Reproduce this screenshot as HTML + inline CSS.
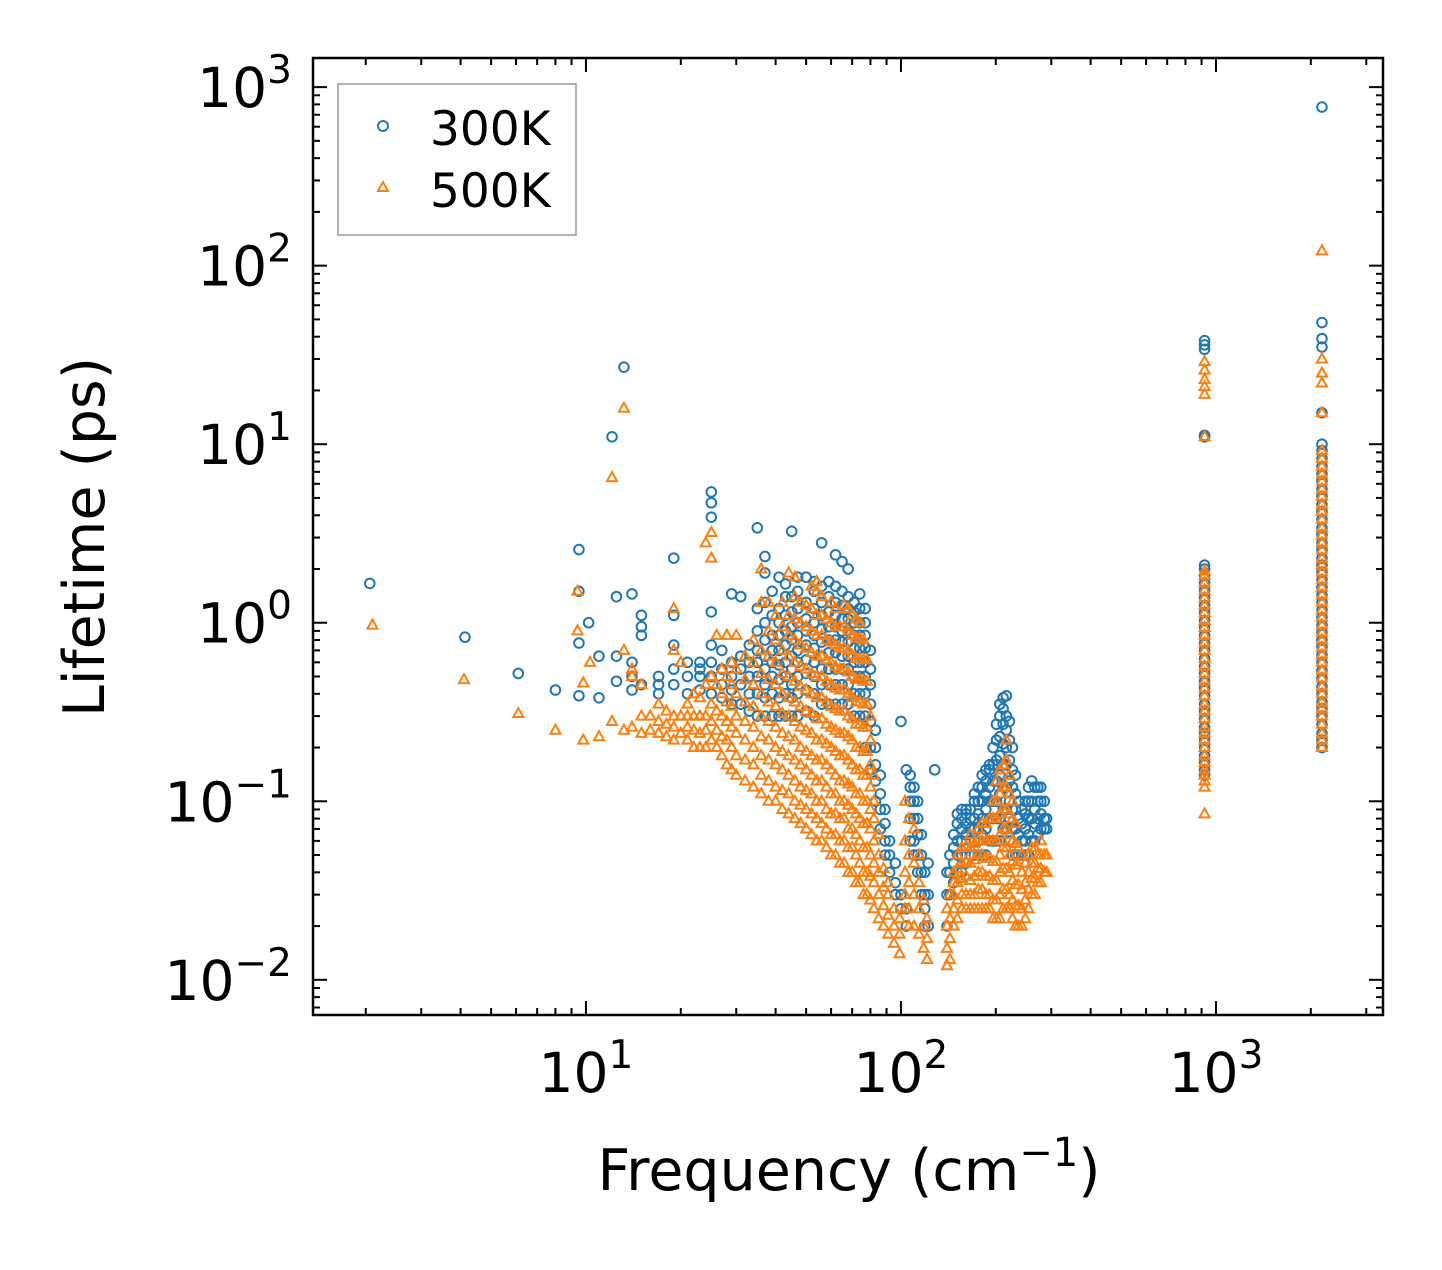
<!DOCTYPE html>
<html><head><meta charset="utf-8"><style>
body{margin:0;background:#fff}
svg text{font-family:"DejaVu Sans","Liberation Sans",sans-serif;fill:#000}
</style></head><body>
<svg id="chart" width="1442" height="1265" viewBox="0 0 1442 1265" xmlns="http://www.w3.org/2000/svg">
<rect width="1442" height="1265" fill="#fff"/>
<g id="marks"></g>
<g id="axes"></g>
<rect x="313" y="58" width="1070" height="957" fill="none" stroke="#000" stroke-width="2.5"/>
<text x="849" y="1190" font-size="57" text-anchor="middle">Frequency (cm<tspan dy="-24" font-size="40">−1</tspan><tspan dy="24">)</tspan></text>
<text transform="translate(104,537) rotate(-90)" font-size="57" text-anchor="middle">Lifetime (ps)</text>
<g>
<rect x="338" y="84" width="238" height="151" fill="#fff" stroke="#999" stroke-width="1.5"/>
<circle cx="383" cy="126" r="5" fill="none" stroke="#1f77b4" stroke-width="2"/>
<text x="430" y="145" font-size="47">300K</text>
<polygon points="383,182 388,191 378,191" fill="none" stroke="#ff7f0e" stroke-width="2"/>
<text x="430" y="207" font-size="47">500K</text>
</g>
</svg>
<script>
// frequency columns and the lifetimes read at each column
const blueCols=[[2.06,[1.66]],[4.13,[0.83]],[6.1,[0.52]],[8,[0.42]],[9.5,[2.57,1.5,0.77,0.39]],[10.2,[1.0]],[11,[0.65,0.38]],[12.1,[11]],[13.2,[27]],
[12.5,[0.47,0.65,1.4]],[14,[0.42,0.5,0.6,1.45]],[15,[0.45,0.85,0.95,1.1]],[17,[0.4,0.5,0.45]],[19,[0.45,0.55,0.75,1.1,2.3]],[21,[0.4,0.5,0.6]],[23,[0.42,0.5,0.6,0.55]],
[25,[0.4,0.5,0.6,0.75,1.15,3.9,4.7,5.4]],[27,[0.38,0.45,0.55,0.7]],[29,[0.35,0.42,0.5,0.6,1.45]],[31,[0.35,0.45,0.55,0.65,1.4]],[33,[0.32,0.4,0.5,0.6,0.75]],
[35,[0.3,0.4,0.5,0.6,0.7,0.9,1.2,3.4]],[37,[0.3,0.38,0.45,0.55,0.65,0.8,1,1.3,1.9,2.35]],[39,[0.3,0.4,0.5,0.6,0.7,0.85,1.1,1.5]],[41,[0.3,0.38,0.48,0.58,0.7,0.85,1.0,1.2,1.8]],
[43,[0.3,0.4,0.5,0.6,0.75,0.9,1.1,1.4,1.65]],[45,[0.3,0.38,0.45,0.55,0.65,0.8,0.95,1.15,1.4,3.25]],[47,[0.3,0.4,0.5,0.6,0.7,0.85,1.0,1.2,1.5,1.8]],
[50,[0.32,0.42,0.52,0.62,0.75,0.9,1.05,1.3,1.8]],[53,[0.3,0.4,0.5,0.6,0.72,0.85,1.0,1.2,1.5,1.7]],[56,[0.35,0.45,0.55,0.65,0.78,0.92,1.1,1.3,1.6,2.8]],
[59,[0.35,0.45,0.55,0.68,0.8,0.95,1.15,1.4,1.7]],[62,[0.35,0.45,0.55,0.68,0.8,0.95,1.1,1.3,1.6,2.4]],[65,[0.35,0.45,0.55,0.65,0.78,0.9,1.05,1.25,1.5,2.2]],
[68,[0.35,0.45,0.55,0.65,0.78,0.9,1.05,1.2,1.4,2.0]],[71,[0.3,0.4,0.5,0.6,0.72,0.85,1.0,1.15,1.3]],[74,[0.3,0.4,0.5,0.6,0.72,0.85,1.0,1.2,1.45]],
[77,[0.2,0.3,0.4,0.5,0.6,0.72,0.85,1.0,1.2]],[80,[0.15,0.2,0.28,0.35,0.45,0.55,0.7]],[83,[0.1,0.13,0.16,0.2,0.25]],[86,[0.07,0.09,0.11,0.14]],
[89,[0.05,0.06,0.075,0.09]],[92,[0.04,0.05,0.06]],[96,[0.03,0.035,0.045]],[100,[0.025,0.03,0.28]],[104,[0.02,0.025,0.15]],[107,[0.06,0.08,0.1,0.12,0.14]],
[110,[0.05,0.06,0.08,0.1,0.12]],[113,[0.04,0.05,0.065,0.08,0.1]],[116,[0.03,0.04,0.05,0.065]],[119,[0.02,0.025,0.03,0.04]],[122,[0.02,0.03,0.045]],[128,[0.15]],
[140,[0.02,0.03,0.04]],[143,[0.03,0.04,0.05]],[147,[0.035,0.045,0.055,0.065]],[151,[0.04,0.05,0.06,0.075,0.085]],[156,[0.04,0.05,0.06,0.07,0.08,0.09]],
[161,[0.045,0.055,0.065,0.075,0.085,0.09]],[166,[0.05,0.06,0.07,0.08,0.09]],[171,[0.05,0.06,0.07,0.08,0.1,0.11]],[176,[0.05,0.06,0.07,0.085,0.1,0.12]],
[181,[0.05,0.065,0.08,0.1,0.12,0.14]],[186,[0.05,0.07,0.09,0.11,0.13,0.15]],[191,[0.06,0.08,0.1,0.12,0.15,0.16]],[196,[0.06,0.08,0.1,0.13,0.16,0.2]],
[201,[0.06,0.08,0.1,0.13,0.17,0.22,0.27]],[206,[0.06,0.08,0.11,0.14,0.18,0.23,0.3,0.35]],[211,[0.07,0.09,0.12,0.16,0.21,0.27,0.33,0.38]],
[216,[0.07,0.09,0.12,0.16,0.2,0.25,0.3,0.39]],[221,[0.06,0.08,0.1,0.13,0.17,0.22,0.28]],[226,[0.05,0.07,0.09,0.12,0.15,0.2]],[231,[0.05,0.07,0.09,0.11,0.14]],
[236,[0.05,0.065,0.08,0.1]],[242,[0.05,0.06,0.075,0.09]],[248,[0.05,0.06,0.07,0.085,0.1]],[254,[0.05,0.065,0.08,0.1,0.12]],[260,[0.06,0.08,0.1,0.13]],
[266,[0.06,0.075,0.09,0.12]],[272,[0.065,0.08,0.1,0.12]],[278,[0.07,0.085,0.1,0.12]],[285,[0.07,0.08,0.1]],[290,[0.07,0.08]],
[920,[0.14,0.15,0.165,0.18,0.2,0.22,0.24,0.26,0.29,0.32,0.35,0.39,0.43,0.47,0.52,0.57,0.63,0.7,0.77,0.85,0.94,1.03,1.14,1.25,1.38,1.52,1.67,1.84,2.0,2.1,11,11.2,34,36,38]],
[2170,[0.2,0.22,0.24,0.27,0.3,0.33,0.36,0.4,0.44,0.49,0.54,0.6,0.66,0.73,0.8,0.88,0.97,1.07,1.18,1.3,1.43,1.58,1.74,1.92,2.1,2.3,2.55,2.8,3.1,3.4,3.8,4.2,4.6,5.1,5.6,6.2,6.8,7.5,8.3,9.2,10,15,35,39,48,773]]];
const orangeCols=[[2.1,[0.97]],[4.1,[0.48]],[6.1,[0.31]],[8,[0.25]],[9.4,[0.9,1.5]],[9.8,[0.22,0.46]],[10.3,[0.6]],[11,[0.23]],[12.1,[6.5,0.28]],[13.2,[15.9,0.25,0.7]],
[14,[0.26,0.5,0.55]],[15,[0.24,0.3,0.45]],[16,[0.25,0.3]],[17,[0.24,0.28,0.35]],[18,[0.23,0.27,0.32]],[19,[0.22,0.26,0.3,0.7,1.2]],[20,[0.24,0.3,0.6]],
[21,[0.22,0.26,0.3,0.35]],[22,[0.2,0.25,0.3,0.4]],[23,[0.2,0.24,0.3,0.38]],[24,[0.2,0.25,0.3,0.45,2.8]],[25,[0.22,0.28,0.35,0.5,2.3,3.2]],[26,[0.2,0.25,0.32,0.45,0.85]],
[27,[0.18,0.23,0.3,0.4,0.55]],[28,[0.16,0.22,0.28,0.36,0.5,0.85]],[29,[0.15,0.2,0.26,0.34,0.45,0.6]],[30,[0.14,0.18,0.24,0.3,0.4,0.55,0.85]],
[32,[0.13,0.17,0.22,0.28,0.36,0.48,0.65]],[34,[0.12,0.16,0.2,0.26,0.34,0.45,0.6,0.8]],[36,[0.11,0.14,0.18,0.23,0.3,0.4,0.52,0.7,1.3,2.0]],
[38,[0.1,0.13,0.17,0.22,0.28,0.36,0.48,0.65,0.9,1.3]],[40,[0.1,0.12,0.16,0.2,0.26,0.34,0.45,0.6,0.8,1.1]],[42,[0.09,0.115,0.15,0.19,0.24,0.31,0.4,0.52,0.7,0.95,1.3]],
[44,[0.085,0.11,0.14,0.18,0.23,0.3,0.38,0.5,0.65,0.85,1.1,1.9]],[46,[0.08,0.1,0.13,0.17,0.22,0.28,0.36,0.47,0.6,0.8,1.05,1.4,1.8]],
[48,[0.075,0.095,0.12,0.16,0.2,0.26,0.34,0.44,0.57,0.75,1.0,1.3]],[50,[0.07,0.09,0.115,0.15,0.19,0.25,0.32,0.42,0.55,0.72,0.95,1.25]],
[52,[0.065,0.085,0.11,0.14,0.18,0.24,0.31,0.4,0.52,0.68,0.9,1.2,1.6]],[54,[0.06,0.08,0.1,0.13,0.17,0.22,0.29,0.38,0.5,0.65,0.85,1.1,1.5,1.7]],
[56,[0.06,0.075,0.1,0.13,0.17,0.22,0.29,0.38,0.5,0.65,0.85,1.1,1.4]],[58,[0.055,0.07,0.09,0.12,0.16,0.21,0.27,0.36,0.47,0.62,0.8,1.05]],
[60,[0.05,0.065,0.085,0.11,0.15,0.2,0.26,0.34,0.45,0.6,0.78,1.0,1.3]],[62,[0.05,0.065,0.085,0.11,0.14,0.19,0.25,0.33,0.43,0.57,0.75,0.95,1.2]],
[64,[0.045,0.06,0.08,0.1,0.13,0.18,0.24,0.32,0.42,0.55,0.72,0.95]],[66,[0.045,0.06,0.08,0.1,0.13,0.18,0.24,0.32,0.42,0.55,0.72,0.95,1.25]],
[68,[0.04,0.055,0.07,0.095,0.125,0.17,0.23,0.3,0.4,0.53,0.7,0.9,1.2]],[70,[0.04,0.055,0.07,0.09,0.12,0.16,0.22,0.29,0.38,0.5,0.66,0.85,1.1]],
[72,[0.035,0.05,0.065,0.085,0.11,0.15,0.2,0.27,0.36,0.48,0.63,0.82,1.05]],[74,[0.035,0.045,0.06,0.08,0.11,0.15,0.2,0.27,0.36,0.48,0.63,0.82,1.0]],
[76,[0.03,0.04,0.055,0.075,0.1,0.14,0.19,0.26,0.35,0.47,0.62,0.8]],[78,[0.03,0.04,0.055,0.075,0.1,0.14,0.19,0.26,0.35,0.47,0.62]],
[80,[0.028,0.038,0.05,0.07,0.09,0.12,0.16,0.22,0.3]],[82,[0.025,0.035,0.045,0.06,0.08,0.1,0.14]],[85,[0.022,0.03,0.04,0.05,0.065]],
[88,[0.02,0.026,0.033,0.042]],[91,[0.018,0.023,0.03,0.035]],[95,[0.016,0.02,0.025]],[99,[0.014,0.018,0.022]],[103,[0.025,0.03,0.04,0.06,0.1]],
[106,[0.02,0.025,0.035,0.05,0.08]],[110,[0.02,0.03,0.045,0.07]],[114,[0.018,0.025,0.035,0.05]],[118,[0.015,0.02,0.028]],[121,[0.013,0.017,0.022]],
[140,[0.012,0.015,0.02,0.025]],[143,[0.013,0.017,0.022,0.03]],[147,[0.02,0.025,0.03,0.035,0.04]],[151,[0.022,0.028,0.035,0.042,0.05]],
[156,[0.025,0.03,0.037,0.045,0.055]],[161,[0.025,0.03,0.038,0.046,0.056]],[166,[0.025,0.03,0.036,0.045,0.055,0.065]],[171,[0.025,0.03,0.038,0.047,0.058]],
[176,[0.025,0.032,0.04,0.05,0.06,0.07]],[181,[0.025,0.032,0.04,0.05,0.06,0.075]],[186,[0.025,0.03,0.038,0.048,0.06,0.075]],[191,[0.025,0.03,0.038,0.048,0.06,0.08]],
[196,[0.022,0.028,0.036,0.046,0.06,0.08,0.1]],[201,[0.022,0.028,0.036,0.046,0.06,0.08,0.1,0.13]],[206,[0.022,0.03,0.04,0.05,0.065,0.085,0.11,0.15]],
[211,[0.025,0.032,0.042,0.055,0.07,0.09,0.12,0.16]],[216,[0.025,0.032,0.042,0.055,0.07,0.09,0.12,0.17,0.22]],[221,[0.025,0.03,0.04,0.05,0.065,0.085,0.11,0.14]],
[226,[0.022,0.028,0.036,0.046,0.06,0.08,0.1]],[231,[0.02,0.026,0.034,0.044,0.058,0.075]],[236,[0.02,0.026,0.034,0.044,0.055]],[242,[0.02,0.025,0.032,0.04,0.05]],
[248,[0.022,0.028,0.035,0.045]],[254,[0.025,0.032,0.04,0.05]],[260,[0.03,0.037,0.045,0.055]],[266,[0.03,0.037,0.045,0.055]],[272,[0.035,0.042,0.05]],
[278,[0.035,0.042,0.05,0.06]],[285,[0.04,0.05]],[290,[0.04,0.05]],
[920,[0.085,0.12,0.13,0.14,0.15,0.165,0.18,0.2,0.22,0.24,0.26,0.29,0.32,0.35,0.39,0.43,0.47,0.52,0.57,0.63,0.7,0.77,0.85,0.94,1.03,1.14,1.25,1.38,1.52,1.67,1.84,1.95,11,19,21,23,26,29]],
[2170,[0.2,0.22,0.24,0.27,0.3,0.33,0.36,0.4,0.44,0.49,0.54,0.6,0.66,0.73,0.8,0.88,0.97,1.07,1.18,1.3,1.43,1.58,1.74,1.92,2.1,2.3,2.55,2.8,3.1,3.4,3.8,4.2,4.6,5.1,5.6,6.2,6.8,7.5,8.3,9.2,15,22,25,30,121]]];
const xTicks=[1,2,3],yTicks=[-2,-1,0,1,2,3];
const X0=313,X1=1383,Y0=58,Y1=1015;
const LX0=Math.log10(1.36),LX1=Math.log10(3390),LY0=-2.197,LY1=3.163;
const xs=v=>X0+(Math.log10(v)-LX0)/(LX1-LX0)*(X1-X0);
const ys=v=>Y1-(Math.log10(v)-LY0)/(LY1-LY0)*(Y1-Y0);
const NS='http://www.w3.org/2000/svg';
const marks=document.getElementById('marks'),axes=document.getElementById('axes');
function mk(t,a,p){const e=document.createElementNS(NS,t);for(const k in a)e.setAttribute(k,a[k]);p.appendChild(e);return e;}
blueCols.forEach(([f,ls])=>ls.forEach(l=>{const c=mk('circle',{cx:xs(f),cy:ys(l),r:4.8,fill:'none',stroke:'#1f77b4','stroke-width':2},marks);

}));
orangeCols.forEach(([f,ls])=>ls.forEach(l=>{const x=xs(f),y=ys(l);const p=mk('polygon',{points:`${x},${y-5.5} ${x+5},${y+3.5} ${x-5},${y+3.5}`,fill:'none',stroke:'#ff7f0e','stroke-width':2},marks);

}));
for(let d=0;d<=3;d++)for(let m=1;m<10;m++){const v=m*Math.pow(10,d);const x=xs(v);if(x<X0||x>X1)continue;const L=m==1?14:7;
mk('line',{x1:x,x2:x,y1:Y1,y2:Y1-L,stroke:'#000','stroke-width':2},axes);mk('line',{x1:x,x2:x,y1:Y0,y2:Y0+L,stroke:'#000','stroke-width':2},axes);}
for(let d=-3;d<=3;d++)for(let m=1;m<10;m++){const v=m*Math.pow(10,d);const y=ys(v);if(y<Y0||y>Y1)continue;const L=m==1?14:7;
mk('line',{x1:X0,x2:X0+L,y1:y,y2:y,stroke:'#000','stroke-width':2},axes);mk('line',{x1:X1,x2:X1-L,y1:y,y2:y,stroke:'#000','stroke-width':2},axes);}
xTicks.forEach(e=>{const t=mk('text',{x:xs(Math.pow(10,e)),y:1092,'font-size':55,'text-anchor':'middle'},axes);


t.innerHTML=`10<tspan dy="-24" font-size="39">${e}</tspan>`;});
yTicks.forEach(e=>{const t=mk('text',{x:292,y:ys(Math.pow(10,e))+20,'font-size':55,'text-anchor':'end'},axes);


t.innerHTML=`10<tspan dy="-24" font-size="39">${e<0?'−'+(-e):e}</tspan>`;});
</script>
</body></html>
